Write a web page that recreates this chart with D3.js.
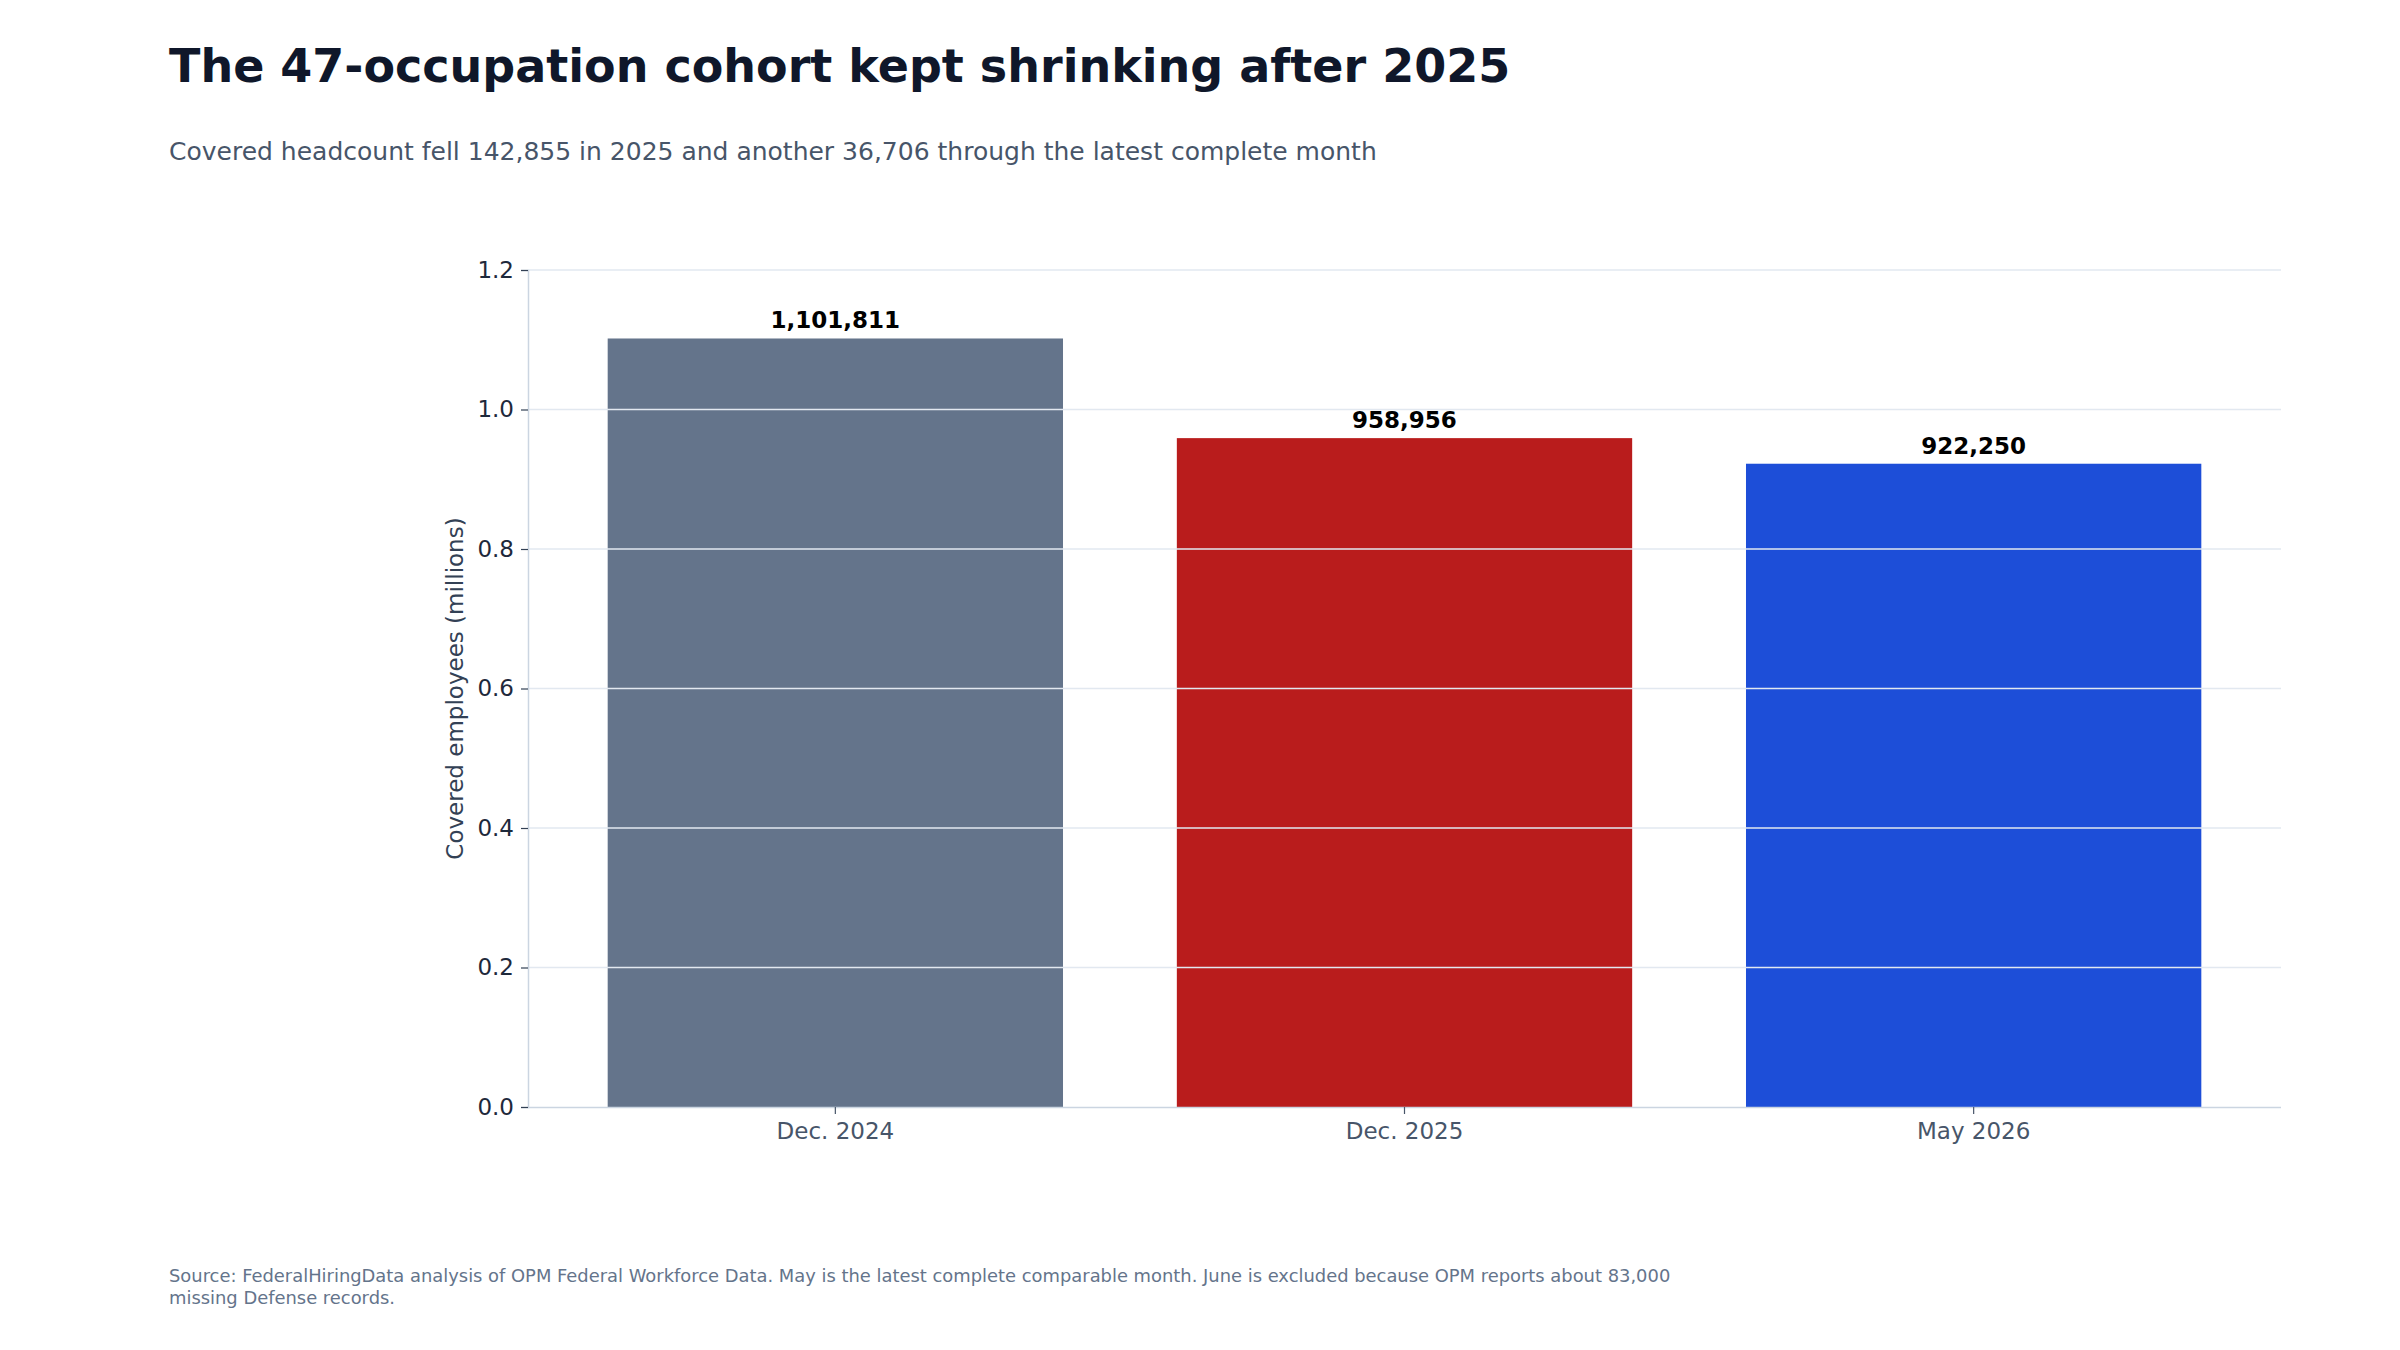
<!DOCTYPE html>
<html>
<head>
<meta charset="utf-8">
<script src="https://cdn.jsdelivr.net/npm/d3@7"></script>
<style>
  html, body { margin: 0; padding: 0; background: #fff; }
  svg text { font-family: "DejaVu Sans", sans-serif; }
</style>
</head>
<body>
<svg id="chart" width="2400" height="1350"></svg>
<script>
// data
const categories = ['Dec. 2024', 'Dec. 2025', 'May 2026'];
const headcounts = [1101811, 958956, 922250];
const yTickValues = [0, 0.2, 0.4, 0.6, 0.8, 1.0, 1.2];

const titleText = 'The 47-occupation cohort kept shrinking after 2025';
const subtitleText = 'Covered headcount fell 142,855 in 2025 and another 36,706 through the latest complete month';
const yLabelText = 'Covered employees (millions)';
const sourceLines = [
    'Source: FederalHiringData analysis of OPM Federal Workforce Data. May is the latest complete comparable month. June is excluded because OPM reports about 83,000',
    'missing Defense records.'
];

function drawChart() {
    const svg = d3.select('#chart');
    const margin = {top: 270, right: 119, bottom: 243, left: 528};
    const width = 2400 - margin.left - margin.right;
    const height = 1350 - margin.top - margin.bottom;

    const color = d3.scaleOrdinal()
        .domain(categories)
        .range(['#64748b', '#b91c1c', '#1d4ed8']);

    // header
    svg.append('text')
        .attr('x', 169).attr('y', 82)
        .attr('font-size', 46).attr('font-weight', 'bold')
        .attr('fill', '#0f172a')
        .text(titleText);

    svg.append('text')
        .attr('x', 169).attr('y', 160)
        .attr('font-size', 25)
        .attr('fill', '#475569')
        .text(subtitleText);

    const g = svg.append('g')
        .attr('transform', `translate(${margin.left},${margin.top})`);

    const x = d3.scaleBand()
        .domain(categories)
        .range([0, width])
        .paddingInner(0.2)
        .paddingOuter(0.14);

    const y = d3.scaleLinear()
        .domain([0, 1.2])
        .range([height, 0]);

    const data = categories.map((c, i) => ({cat: c, value: headcounts[i]}));

    // bars
    g.selectAll('.bar')
        .data(data)
        .enter().append('rect')
        .attr('class', 'bar')
        .attr('x', d => x(d.cat))
        .attr('width', x.bandwidth())
        .attr('y', d => y(d.value / 1e6))
        .attr('height', d => height - y(d.value / 1e6))
        .attr('fill', d => color(d.cat));

    // grid on top of the bars
    g.append('g')
        .selectAll('line')
        .data(yTickValues.filter(v => v > 0))
        .enter().append('line')
        .attr('x1', 0).attr('x2', width)
        .attr('y1', d => y(d)).attr('y2', d => y(d))
        .attr('stroke', '#e2e8f0')
        .attr('stroke-width', 1.5);

    // value labels
    g.selectAll('.value-label')
        .data(data)
        .enter().append('text')
        .attr('class', 'value-label')
        .attr('x', d => x(d.cat) + x.bandwidth() / 2)
        .attr('y', d => y(d.value / 1e6) - 10)
        .attr('text-anchor', 'middle')
        .attr('font-size', 23).attr('font-weight', 'bold')
        .attr('fill', '#000')
        .text(d => d3.format(',')(d.value));

    // y axis
    const yAxis = g.append('g')
        .call(d3.axisLeft(y).tickValues(yTickValues).tickFormat(d3.format('.1f')).tickSize(7).tickPadding(7));
    yAxis.select('.domain').attr('stroke', '#cbd5e1').attr('stroke-width', 1.5);
    yAxis.selectAll('.tick line').attr('stroke', '#334155').attr('stroke-width', 1.2);
    yAxis.selectAll('.tick text')
        .attr('font-size', 23).attr('fill', '#1e293b')
        .attr('font-family', '"DejaVu Sans", sans-serif');

    // x axis
    const xAxis = g.append('g')
        .attr('transform', `translate(0,${height})`)
        .call(d3.axisBottom(x).tickSize(7).tickPadding(9));
    xAxis.select('.domain').attr('stroke', '#cbd5e1').attr('stroke-width', 1.5)
        .attr('d', `M0,0.5H${width}`);
    xAxis.selectAll('.tick line').attr('stroke', '#475569').attr('stroke-width', 1.2);
    xAxis.selectAll('.tick text')
        .attr('font-size', 23).attr('fill', '#475569')
        .attr('font-family', '"DejaVu Sans", sans-serif');

    // y label
    svg.append('text')
        .attr('transform', `translate(463,${margin.top + height / 2}) rotate(-90)`)
        .attr('text-anchor', 'middle')
        .attr('font-size', 23)
        .attr('fill', '#334155')
        .text(yLabelText);

    // source note
    svg.append('g')
        .selectAll('text')
        .data(sourceLines)
        .enter().append('text')
        .attr('x', 169)
        .attr('y', (d, i) => 1282 + i * 22)
        .attr('font-size', 17.9)
        .attr('fill', '#64748b')
        .text(d => d);
}

drawChart();
</script>
</body>
</html>
